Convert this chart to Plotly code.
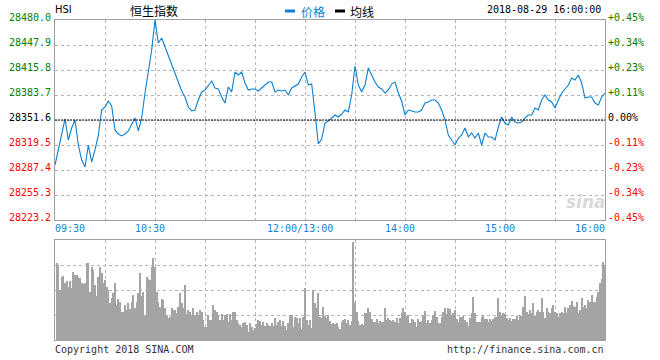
import plotly.graph_objects as go

# ---------------- data ----------------
prev_close = 28351.6
y_ticks = [28480.0, 28447.9, 28415.8, 28383.7, 28351.6, 28319.5, 28287.4, 28255.3, 28223.2]
pct_ticks = ["+0.45%", "+0.34%", "+0.23%", "+0.11%", "0.00%", "-0.11%", "-0.23%", "-0.34%", "-0.45%"]
x_tick_labels = ["09:30", "10:30", "12:00/13:00", "14:00", "15:00", "16:00"]
x_tick_times = ["09:30", "10:30", "12:00", "14:00", "15:00", "16:00"]
grid_times = ["09:30", "10:00", "10:30", "11:00", "11:30", "12:00", "13:30", "14:00",
              "14:30", "15:00", "15:30", "16:00"]

# price sampled every 2 trading minutes from 09:30 to 16:00 (lunch break removed)
prices = [
    28293.8, 28313.1, 28332.3, 28352.9, 28325.9, 28341.3, 28351.6, 28319.5, 28300.2, 28291.3,
    28319.5, 28297.7, 28313.1, 28332.3, 28364.4, 28368.3, 28376.0, 28369.6, 28338.8, 28333.6,
    28331.1, 28333.6, 28337.5, 28346.5, 28354.2, 28337.5, 28354.2, 28386.3, 28417.1, 28441.5,
    28480.0, 28450.5, 28456.9, 28445.3, 28433.8, 28420.9, 28410.7, 28400.4, 28388.8, 28381.1,
    28368.3, 28363.2, 28364.4, 28377.3, 28387.6, 28390.1, 28395.3, 28401.7, 28392.7, 28391.4,
    28381.1, 28373.4, 28394.0, 28387.6, 28413.2, 28409.4, 28413.2, 28399.1, 28390.1, 28391.4,
    28391.4, 28388.8, 28392.7, 28396.5, 28400.4, 28400.4, 28387.6, 28390.1, 28388.8, 28390.1,
    28383.7, 28392.7, 28395.3, 28397.8, 28406.8, 28413.2, 28396.5, 28397.8, 28360.6, 28320.8,
    28327.2, 28347.7, 28350.3, 28354.2, 28358.0, 28355.5, 28359.3, 28364.4, 28361.9, 28383.7,
    28420.9, 28396.5, 28387.6, 28396.5, 28418.4, 28409.4, 28400.4, 28394.0, 28391.4, 28386.3,
    28390.1, 28397.8, 28400.4, 28386.3, 28376.0, 28358.0, 28364.4, 28363.2, 28361.9, 28361.9,
    28364.4, 28373.4, 28374.7, 28377.3, 28377.3, 28373.4, 28364.4, 28351.6, 28332.3, 28325.9,
    28319.5, 28328.5, 28332.3, 28341.3, 28329.8, 28334.9, 28328.5, 28334.9, 28319.5, 28334.9,
    28329.8, 28329.8, 28325.9, 28342.6, 28355.5, 28347.7, 28345.2, 28355.5, 28349.0, 28347.7,
    28349.0, 28354.2, 28358.0, 28358.0, 28367.0, 28364.4, 28377.3, 28383.7, 28377.3, 28374.7,
    28367.0, 28377.3, 28386.3, 28391.4, 28396.5, 28405.5, 28403.0, 28409.4, 28399.1, 28379.8,
    28381.1, 28381.1, 28373.4, 28370.9, 28381.1, 28386.3,
]

# volume per minute, 09:31 .. 16:00 (relative units)
volumes = [
    232, 225, 150, 190, 192, 172, 178, 160, 178, 155,
    205, 195, 196, 190, 187, 170, 167, 172, 230, 232,
    145, 220, 210, 165, 132, 190, 220, 200, 170, 180,
    158, 150, 112, 125, 140, 172, 105, 122, 115, 85,
    85, 105, 90, 110, 92, 115, 135, 95, 115, 142,
    202, 132, 145, 75, 190, 182, 180, 220, 245, 220,
    145, 115, 100, 122, 120, 95, 75, 65, 70, 95,
    90, 90, 80, 100, 142, 110, 95, 165, 78, 90,
    85, 75, 95, 75, 85, 75, 90, 85, 60, 40,
    40, 75, 60, 60, 105, 90, 85, 75, 60, 78,
    60, 75, 78, 55, 78, 60, 85, 85, 60, 52,
    45, 38, 52, 55, 45, 25, 50, 38, 30, 35,
    48, 60, 58, 45, 55, 42, 50, 45, 42, 50,
    42, 65, 45, 55, 60, 42, 58, 42, 30, 50,
    75, 75, 40, 68, 65, 50, 65, 32, 70, 155,
    60, 45, 60, 35, 150, 110, 95, 140, 70, 65,
    100, 72, 65, 75,
    57, 48, 52, 48, 50, 40, 32, 55, 60, 62,
    50, 60, 45, 58, 295, 115, 85, 58, 45, 48,
    45, 80, 82, 95, 85, 62, 55, 55, 62, 50,
    58, 55, 55, 95, 60, 65, 60, 58, 60, 55,
    65, 52, 65, 80, 95, 85, 72, 75, 50, 62,
    60, 55, 38, 62, 55, 58, 75, 88, 50, 60,
    50, 60, 75, 88, 68, 50, 52, 68, 85, 95,
    78, 95, 92, 75, 80, 90, 62, 55, 68, 68,
    72, 60, 55, 42, 65, 82, 130, 82, 55, 55,
    55, 70, 72, 62, 62, 55, 62, 58, 62, 68,
    70, 125, 85, 75, 80, 78, 65, 60, 65, 58,
    62, 62, 72, 60, 75, 72, 100, 132, 85, 78,
    90, 80, 110, 72, 85, 90, 85, 125, 85, 65,
    95, 85, 80, 95, 105, 85, 80, 70, 80, 85,
    82, 100, 80, 95, 105, 117, 102, 100, 115, 80,
    90, 125, 100, 105, 95, 120, 115, 135, 115, 115,
    130, 145, 172, 182, 235, 225,
]


# ---------------- helpers ----------------
def trade_minute(hhmm):
    h, m = map(int, hhmm.split(":"))
    mins = h * 60 + m
    if mins <= 12 * 60:
        return mins - (9 * 60 + 30)
    return 150 + mins - 13 * 60


def fmt(mins):
    return "%02d:%02d" % (mins // 60, mins % 60)


price_times = [fmt(9 * 60 + 30 + k) for k in range(0, 151, 2)] + \
              [fmt(13 * 60 + k) for k in range(2, 181, 2)]
vol_times = [fmt(9 * 60 + 30 + k) for k in range(1, 151)] + \
            [fmt(13 * 60 + k) for k in range(1, 181)]

price_x = [trade_minute(t) for t in price_times]
vol_x = [trade_minute(t) for t in vol_times]

W, H = 660, 360
L, R = 55, 605
MT, MB = 20, 220   # main panel top/bottom in px
VT, VB = 240, 340  # volume panel


def px(x):
    return x / W


def py(y):
    return 1 - y / H


BLUE = "#0c7fd0"
GREEN = "#008000"
RED = "#ff0000"
GRID = "#b4b4b4"
BORDER = "#a0a0a0"
MONO = "DejaVu Sans Mono"

fig = go.Figure()
fig.add_trace(go.Scatter(x=price_x, y=prices, mode="lines",
                         line=dict(color=BLUE, width=1.1),
                         xaxis="x", yaxis="y", hoverinfo="skip", showlegend=False))
fig.add_trace(go.Bar(x=vol_x, y=volumes, width=0.55,
                     marker=dict(color="#a4a4a4", line=dict(width=0)),
                     xaxis="x2", yaxis="y2", hoverinfo="skip", showlegend=False))

grid_vals = [trade_minute(t) for t in grid_times]
axis_common = dict(showgrid=True, gridcolor=GRID, griddash="dot", gridwidth=1,
                   showline=True, linecolor=BORDER, linewidth=1, mirror=True,
                   zeroline=False, showticklabels=False, ticks="", fixedrange=True)

fig.update_layout(
    width=W, height=H,
    margin=dict(l=0, r=0, t=0, b=0),
    paper_bgcolor="white", plot_bgcolor="white",
    bargap=0,
    xaxis=dict(domain=[px(L), px(R)], range=[0, 330], tickvals=grid_vals,
               anchor="y", **axis_common),
    yaxis=dict(domain=[py(MB), py(MT)], range=[y_ticks[-1], y_ticks[0]],
               tickvals=y_ticks, anchor="x", **axis_common),
    xaxis2=dict(domain=[px(L), px(R)], range=[0, 330], tickvals=grid_vals,
                anchor="y2", **axis_common),
    yaxis2=dict(domain=[py(VB), py(VT)], range=[0, 300],
                tickvals=[0, 75, 150, 225, 300], anchor="x2", **axis_common),
)

shapes = [
    dict(type="line", xref="x", yref="y", x0=0, x1=330, y0=prev_close, y1=prev_close,
         line=dict(color="black", width=1, dash="2px,1px")),
    dict(type="rect", xref="paper", yref="paper", x0=px(285), x1=px(295),
         y0=py(12.5), y1=py(9.5), fillcolor=BLUE, line=dict(width=0)),
    dict(type="rect", xref="paper", yref="paper", x0=px(335), x1=px(345),
         y0=py(12.5), y1=py(9.5), fillcolor="black", line=dict(width=0)),
]
fig.update_layout(shapes=shapes)

ann = []
for i, (v, p) in enumerate(zip(y_ticks, pct_ticks)):
    if i < 4:
        c = GREEN
    elif i == 4:
        c = "black"
    else:
        c = RED
    ann.append(dict(x=px(53), xref="paper", y=v, yref="y", text="%.1f" % v,
                    xanchor="right", yanchor="middle", yshift=3, showarrow=False,
                    font=dict(family=MONO, size=10, color=c)))
    ann.append(dict(x=px(606), xref="paper", y=v, yref="y", text=p,
                    xanchor="left", yanchor="middle", yshift=3, showarrow=False,
                    font=dict(family=MONO, size=10, color=c)))

for lab, t in zip(x_tick_labels, x_tick_times):
    xm = trade_minute(t)
    if xm == 0:
        xa, xs = "left", -2
    elif xm == 330:
        xa, xs = "right", 2
    else:
        xa, xs = "center", -5
    ann.append(dict(x=xm, xref="x", y=py(228), yref="paper", text=lab,
                    xanchor=xa, yanchor="middle", xshift=xs, showarrow=False,
                    font=dict(family=MONO, size=10, color="#1a7fcc")))

ann += [
    dict(x=px(53), y=py(9), text="HSI", xanchor="left", yanchor="middle",
         font=dict(family="DejaVu Sans", size=10, color="black")),
    dict(x=px(154), y=py(10), text="恒生指数", xanchor="center", yanchor="middle",
         font=dict(family="Noto Sans CJK SC", size=12, color="black")),
    dict(x=px(299), y=py(11), text="价格", xanchor="left", yanchor="middle",
         font=dict(family="Noto Sans CJK SC", size=12, color=BLUE)),
    dict(x=px(348), y=py(11), text="均线", xanchor="left", yanchor="middle",
         font=dict(family="Noto Sans CJK SC", size=12, color="black")),
    dict(x=px(603), y=py(9), text="2018-08-29 16:00:00", xanchor="right", yanchor="middle",
         font=dict(family=MONO, size=10, color="black")),
    dict(x=px(53), y=py(349), text="Copyright 2018 SINA.COM", xanchor="left", yanchor="middle",
         font=dict(family=MONO, size=10, color="#333333")),
    dict(x=px(606), y=py(349), text="http://finance.sina.com.cn", xanchor="right",
         yanchor="middle", font=dict(family=MONO, size=10, color="#333333")),
    dict(x=px(586), y=py(202), text="<b><i>sina</i></b>", xanchor="center", yanchor="middle",
         font=dict(family="DejaVu Sans", size=17, color="rgba(200,200,200,0.7)")),
]
for a in ann[-8:]:
    a.update(xref="paper", yref="paper", showarrow=False)

fig.update_layout(annotations=ann)
fig.write_html("out.html", config={"displayModeBar": False},
               post_script="document.body.style.margin='0';document.body.style.padding='0';")
